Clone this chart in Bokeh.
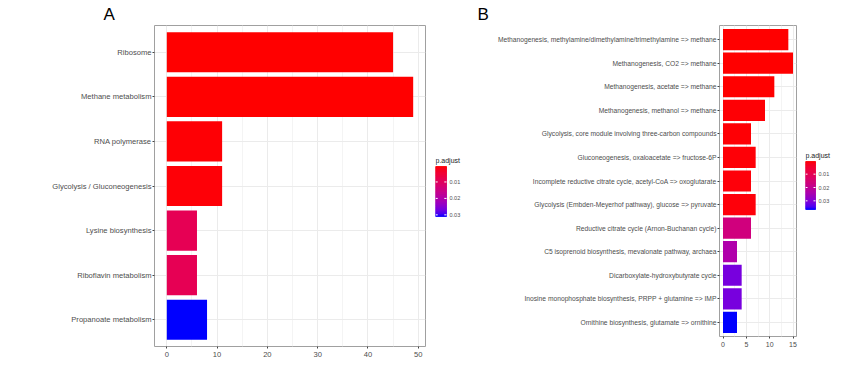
import numpy as np
from bokeh.plotting import figure
from bokeh.models import ColumnDataSource, FactorRange, Range1d, FixedTicker
from bokeh.core.properties import value
from bokeh.transform import linear_cmap
from bokeh.layouts import row
from bokeh.embed import file_html
from bokeh.resources import INLINE

# ---------------- data ----------------
a_terms = ["Ribosome", "Methane metabolism", "RNA polymerase", "Glycolysis / Gluconeogenesis",
           "Lysine biosynthesis", "Riboflavin metabolism", "Propanoate metabolism"]
a_counts = [45, 49, 11, 11, 6, 6, 8]
a_padj = [0.0007, 0.0006, 0.0009, 0.0010, 0.0088, 0.0088, 0.031]
a_xticks = [0, 10, 20, 30, 40, 50]

b_terms = ["Methanogenesis, methylamine/dimethylamine/trimethylamine => methane",
           "Methanogenesis, CO2 => methane",
           "Methanogenesis, acetate => methane",
           "Methanogenesis, methanol => methane",
           "Glycolysis, core module involving three-carbon compounds",
           "Gluconeogenesis, oxaloacetate => fructose-6P",
           "Incomplete reductive citrate cycle, acetyl-CoA => oxoglutarate",
           "Glycolysis (Embden-Meyerhof pathway), glucose => pyruvate",
           "Reductive citrate cycle (Arnon-Buchanan cycle)",
           "C5 isoprenoid biosynthesis, mevalonate pathway, archaea",
           "Dicarboxylate-hydroxybutyrate cycle",
           "Inosine monophosphate biosynthesis, PRPP + glutamine => IMP",
           "Ornithine biosynthesis, glutamate => ornithine"]
b_counts = [14, 15, 11, 9, 6, 7, 6, 7, 6, 3, 4, 4, 3]
b_padj = [0.0005, 0.0005, 0.0006, 0.0008, 0.0009, 0.0010, 0.0011, 0.0012,
          0.0167, 0.0239, 0.0315, 0.0315, 0.0365]
b_xticks = [0, 5, 10, 15]

legend_ticks = [0.01, 0.02, 0.03]
legend_title = "p.adjust"

FONT = "Liberation Sans"
TOP = 25  # common frame top (row layout aligns frames)

# ---------------- Lab colour ramp (red -> blue, like ggplot) ----------------
M = np.array([[0.4124564, 0.3575761, 0.1804375],
              [0.2126729, 0.7151522, 0.0721750],
              [0.0193339, 0.1191920, 0.9503041]])
WP = np.array([0.95047, 1.0, 1.08883])
D = 6 / 29


def to_lab(hexc):
    c = np.array([int(hexc[i:i + 2], 16) for i in (1, 3, 5)]) / 255.0
    lin = np.where(c <= 0.04045, c / 12.92, ((c + 0.055) / 1.055) ** 2.4)
    t = (M @ lin) / WP
    f = np.where(t > D ** 3, np.cbrt(t), t / (3 * D * D) + 4 / 29)
    return np.array([116 * f[1] - 16, 500 * (f[0] - f[1]), 200 * (f[1] - f[2])])


def from_lab(lab):
    L, a, b = lab
    fy = (L + 16) / 116
    f = np.array([fy + a / 500, fy, fy - b / 200])
    t = np.where(f > D, f ** 3, 3 * D * D * (f - 4 / 29))
    lin = np.clip(np.linalg.inv(M) @ (t * WP), 0, 1)
    c = np.where(lin <= 0.0031308, 12.92 * lin, 1.055 * lin ** (1 / 2.4) - 0.055)
    return "#%02x%02x%02x" % tuple(int(round(v * 255)) for v in c)


lab_lo, lab_hi = to_lab("#ff0000"), to_lab("#0000ff")
PALETTE = [from_lab(lab_lo + (lab_hi - lab_lo) * k / 255) for k in range(256)]


def make_panel(terms, counts, padj, xticks, letter, frame_w, frame_h, b_left, b_right,
               b_bottom, lab_size, tick_size, letter_offset):
    factors = terms[::-1]
    src = ColumnDataSource(dict(term=terms, count=counts, p=padj))
    cmax = max(counts)
    pmin, pmax = min(padj), max(padj)
    p = figure(y_range=FactorRange(factors=factors, range_padding=0.1,
                                   range_padding_units="absolute"),
               x_range=Range1d(-0.05 * cmax, 1.05 * cmax),
               frame_width=frame_w, frame_height=frame_h,
               min_border_left=b_left, min_border_top=TOP, min_border_right=b_right,
               min_border_bottom=b_bottom, title=letter,
               output_backend="svg", toolbar_location=None)
    p.hbar(y="term", left=0, right="count", height=0.9, source=src,
           fill_color=linear_cmap("p", PALETTE, pmin, pmax), line_color=None)

    p.background_fill_color = "white"
    p.border_fill_color = "white"
    p.outline_line_color = "#A0A0A0"
    p.outline_line_width = 1

    minor = [(xticks[i] + xticks[i + 1]) / 2 for i in range(len(xticks) - 1)]
    p.xaxis.ticker = FixedTicker(ticks=xticks, minor_ticks=minor)
    p.xgrid.grid_line_color = "#EBEBEB"
    p.xgrid.minor_grid_line_color = "#F4F4F4"
    p.ygrid.grid_line_color = "#EBEBEB"

    for ax in (p.xaxis, p.yaxis):
        ax.axis_line_color = None
        ax.major_tick_line_color = "#444444"
        ax.major_tick_out = 2
        ax.major_tick_in = 0
        ax.minor_tick_line_color = None
        ax.major_label_text_font = FONT
        ax.major_label_text_color = "#4D4D4D"
        ax.major_label_standoff = 1
    p.xaxis.major_label_text_font_size = tick_size
    p.yaxis.major_label_text_font_size = lab_size

    p.title.text_font = FONT
    p.title.text_font_size = "17px"
    p.title.text_font_style = "normal"
    p.title.text_color = "black"
    p.title.align = "left"
    p.title.offset = letter_offset
    p.title.standoff = 3
    return p


def make_legend(padj, frame_w, frame_h, b_left, b_bottom, bar_w, bar_top, bar_bottom):
    """Colour bar drawn with glyphs; bar spans page rows bar_top..bar_bottom."""
    pmin, pmax = min(padj), max(padj)
    ppu = (bar_bottom - bar_top) / (pmax - pmin)          # pixels per p unit
    v_top = pmin - (bar_top - TOP) / ppu
    v_bot = pmax + (TOP + frame_h - bar_bottom) / ppu
    lg = figure(x_range=Range1d(0, frame_w / bar_w), y_range=Range1d(v_bot, v_top),
                frame_width=frame_w, frame_height=frame_h,
                min_border_left=b_left, min_border_top=TOP, min_border_right=0,
                min_border_bottom=b_bottom, x_axis_location=None, y_axis_location=None,
                output_backend="svg", toolbar_location=None)
    steps = np.linspace(pmin, pmax, 129)
    gsrc = ColumnDataSource(dict(lo=steps[:-1], hi=steps[1:], v=(steps[:-1] + steps[1:]) / 2))
    cmap = linear_cmap("v", PALETTE, pmin, pmax)
    lg.quad(left=0, right=1, bottom="lo", top="hi", source=gsrc,
            fill_color=cmap, line_color=cmap, line_width=0.6)
    lg.segment(x0=0, x1=0.2, y0=legend_ticks, y1=legend_ticks, line_color="white", line_width=1)
    lg.segment(x0=0.8, x1=1, y0=legend_ticks, y1=legend_ticks, line_color="white", line_width=1)
    lg.text(x=1 + 3 / bar_w, y=legend_ticks, text=["%.2f" % t for t in legend_ticks],
            text_font=value(FONT), text_font_size="5.5px", text_color="#4D4D4D",
            text_baseline="middle", text_align="left")
    lg.text(x=[0], y=[pmin - 3 / ppu], text=[legend_title],
            text_font=value(FONT), text_font_size="7px", text_color="#1A1A1A",
            text_baseline="bottom", text_align="left")
    lg.grid.visible = False
    lg.outline_line_color = None
    lg.background_fill_color = "white"
    lg.border_fill_color = "white"
    return lg


pa = make_panel(a_terms, a_counts, a_padj, a_xticks, "A",
                frame_w=271, frame_h=321, b_left=154, b_right=5, b_bottom=24,
                lab_size="7.6px", tick_size="7.6px", letter_offset=-51)
la = make_legend(a_padj, frame_w=35, frame_h=321, b_left=5, b_bottom=24,
                 bar_w=11, bar_top=166, bar_bottom=216)
pb = make_panel(b_terms, b_counts, b_padj, b_xticks, "B",
                frame_w=77, frame_h=311, b_left=249, b_right=5, b_bottom=24,
                lab_size="6.7px", tick_size="7px", letter_offset=-242)
lb = make_legend(b_padj, frame_w=44, frame_h=311, b_left=4, b_bottom=24,
                 bar_w=10, bar_top=161, bar_bottom=209)

layout = row(pa, la, pb, lb, spacing=0)
open("out.html", "w").write(file_html(layout, INLINE))
